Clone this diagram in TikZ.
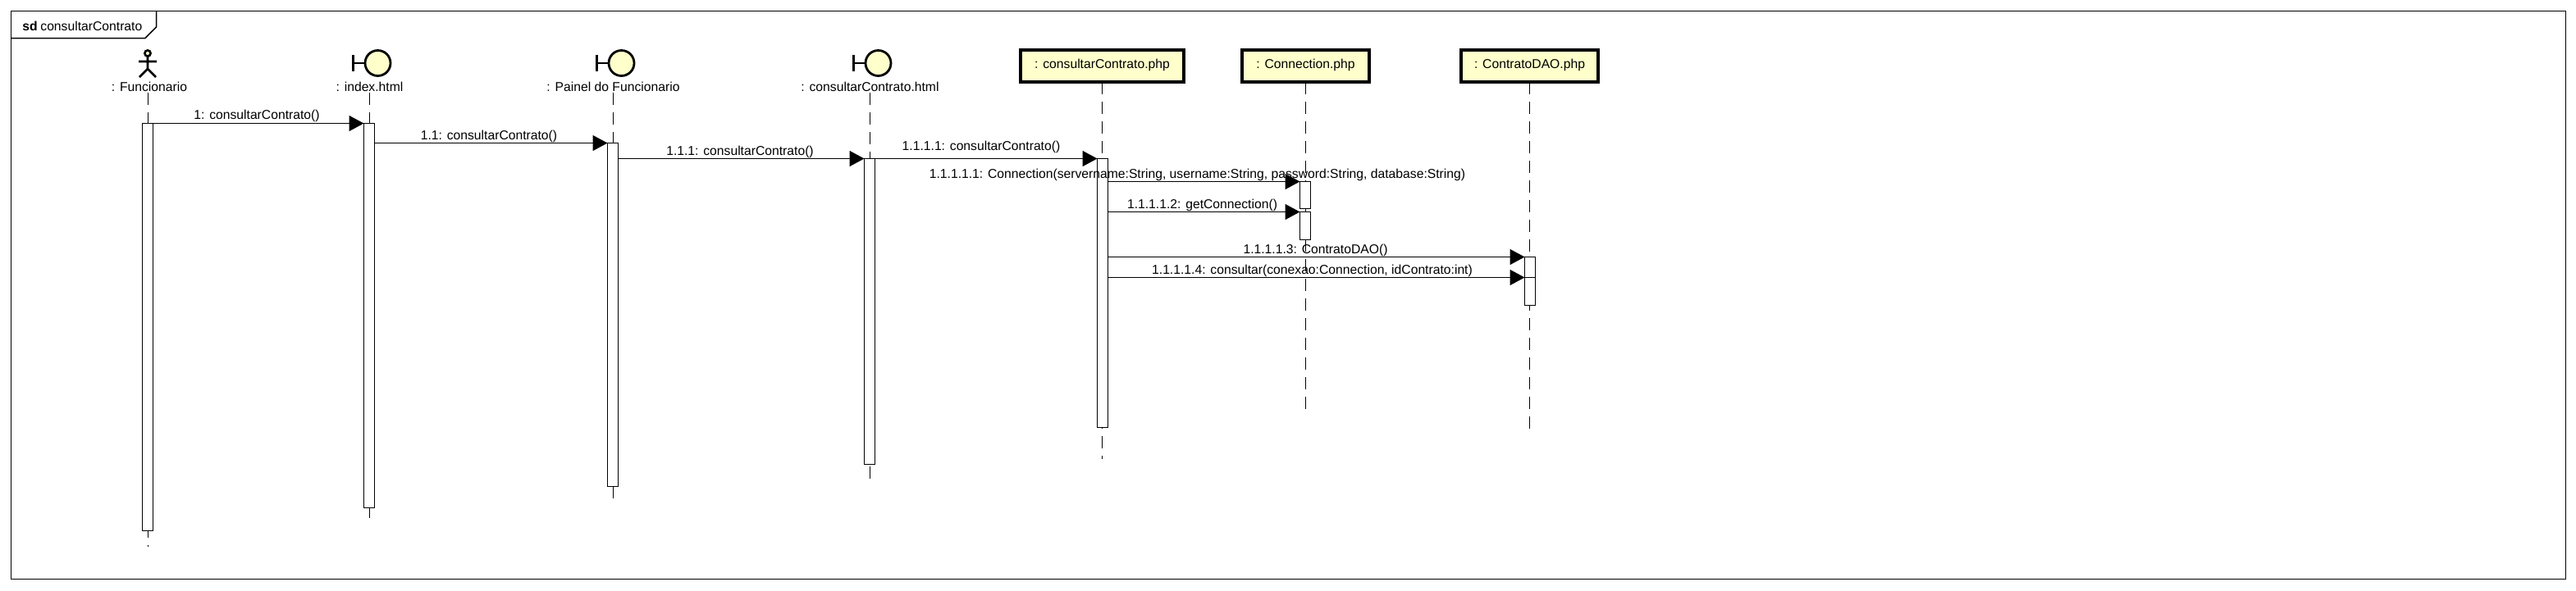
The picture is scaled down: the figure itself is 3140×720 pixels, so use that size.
\documentclass[tikz,border=0pt]{standalone}
\usepackage{fontspec}
\setmainfont{Liberation Sans}
\usetikzlibrary{arrows.meta,calc}
\definecolor{objfill}{RGB}{255,255,204}
\tikzset{
  umltext/.style={inner sep=0pt, anchor=base, font=\fontsize{7.85}{9}\selectfont},
  frameline/.style={line width=0.75pt},
  lifeline/.style={line width=0.65pt, dash pattern=on 7.5pt off 4.5pt},
  actbar/.style={draw, fill=white, line width=0.6pt, minimum width=6.5pt, inner sep=0pt, outer sep=0pt, anchor=north},
  msgline/.style={line width=0.7pt, -{Triangle[length=9pt,width=9.5pt]}},
  objbox/.style={draw, fill=objfill, line width=2pt, inner sep=0pt, outer sep=0pt, minimum height=19.5pt},
  bndhead/.style={circle, draw, fill=objfill, line width=1.4pt, minimum size=15.5pt, inner sep=0pt, outer sep=0pt},
  bndline/.style={line width=1.4pt},
  acthead/.style={circle, draw, fill=objfill, line width=1.3pt, minimum size=3.6pt, inner sep=0pt, outer sep=0pt}
}
\newcommand{\bndobj}[3]{% boundary symbol, its label and the top of its lifeline
  \node[bndhead] (#1Head) at (#2+10,77) {};
  \draw[bndline] (#1Head.west) -- ++(-13,0) (#2-20,67) -- (#2-20,87);
  \node[umltext] (#1Lbl) at (#2,111) {#3};
  \coordinate (#1Top) at (#2,113);
}
\newcommand{\boxobj}[4]{% yellow object box, x from #2 to #3
  \node[objbox, minimum width={(#3-#2)*0.5pt}] (#1Box) at ({(#2+#3)/2},80.5) {};
  \node[umltext] (#1Lbl) at ({(#2+#3)/2},83) {#4};
  \coordinate (#1Top) at (#1Box.south);
}
\newcommand{\actbox}[4]{% activation bar on x=#2 from #3 down to #4
  \node[actbar, minimum height={(#4-#3)*0.5pt}] (#1) at (#2,#3) {};
}
\begin{document}
\begin{tikzpicture}[x=0.5pt,y=-0.5pt]
  \useasboundingbox (0,0) rectangle (3140,720);
  % frame with its tab
  \coordinate (frmA) at (13.5,13.5);
  \coordinate (frmB) at (3127.5,706.5);
  \draw[frameline] (frmA) rectangle (frmB);
  \draw[frameline] (13.5,46.5) -- (177,46.5) -- (190.5,33) -- (190.5,13.5);
  \node[umltext, anchor=base west] (frmKind) at (27,37) {\textbf{sd}};
  \node[umltext, anchor=base west] (frmName) at (49,37) {consultarContrato};

  % actor
  \node[acthead] (fncHead) at (180,65) {};
  \draw[bndline] (fncHead.south) -- (180,84) -- (170,94) (180,84) -- (190,94) (169,75) -- (191,75);
  \node[umltext] (fncLbl) at (182,111) {: Funcionario};
  \coordinate (fncTop) at (180.5,113);

  \bndobj{idx}{450.5}{: index.html}
  \bndobj{pnl}{747.5}{: Painel do Funcionario}
  \bndobj{htm}{1060.5}{: consultarContrato.html}
  \boxobj{php}{1244}{1443}{: consultarContrato.php}
  \boxobj{con}{1514}{1669}{: Connection.php}
  \boxobj{dao}{1781}{1948}{: ContratoDAO.php}

  % lifelines
  \coordinate (fncEnd) at (180.5,667);
  \coordinate (idxEnd) at (450.5,634);
  \coordinate (pnlEnd) at (747.5,610);
  \coordinate (htmEnd) at (1060.5,585);
  \coordinate (phpEnd) at (phpTop |- 0,560);
  \coordinate (conEnd) at (conTop |- 0,501);
  \coordinate (daoEnd) at (daoTop |- 0,525);
  \foreach \n in {fnc,idx,pnl,htm,php,con,dao}
    \draw[lifeline] (\n Top) -- (\n End);

  % activations
  \actbox{actFnc}{180}{150.5}{647.5}
  \actbox{actIdx}{450}{150.5}{619.5}
  \actbox{actPnl}{747}{174.5}{593.5}
  \actbox{actHtm}{1060}{193.5}{566.5}
  \actbox{actPhp}{1344}{193.5}{521.5}
  \actbox{actConA}{1591}{221.5}{254.5}
  \actbox{actConB}{1591}{258.5}{292.5}
  \actbox{actDaoA}{1865}{313.5}{338.5}
  \actbox{actDaoB}{1865}{338.5}{372.5}

  % message labels
  \node[umltext] (msgA) at (313,145.5) {1: consultarContrato()};
  \node[umltext] (msgB) at (596,170) {1.1: consultarContrato()};
  \node[umltext] (msgC) at (902,189) {1.1.1: consultarContrato()};
  \node[umltext] (msgD) at (1196,183) {1.1.1.1: consultarContrato()};
  \node[umltext] (msgE) at (1459.5,217) {1.1.1.1.1: Connection(servername:String, username:String, password:String, database:String)};
  \node[umltext] (msgF) at (1465.5,254) {1.1.1.1.2: getConnection()};
  \node[umltext] (msgG) at (1603.5,309) {1.1.1.1.3: ContratoDAO()};
  \node[umltext] (msgH) at (1599.5,334) {1.1.1.1.4: consultar(conexao:Connection, idContrato:int)};

  % messages
  \draw[msgline] (actFnc.north east) -- (actIdx.north west);
  \draw[msgline] (actIdx.east |- actPnl.north) -- (actPnl.north west);
  \draw[msgline] (actPnl.east |- actHtm.north) -- (actHtm.north west);
  \draw[msgline] (actHtm.north east) -- (actPhp.north west);
  \draw[msgline] (actPhp.east |- actConA.north) -- (actConA.north west);
  \draw[msgline] (actPhp.east |- actConB.north) -- (actConB.north west);
  \draw[msgline] (actPhp.east |- actDaoA.north) -- (actDaoA.north west);
  \draw[msgline] (actPhp.east |- actDaoB.north) -- (actDaoB.north west);
\end{tikzpicture}
\end{document}
